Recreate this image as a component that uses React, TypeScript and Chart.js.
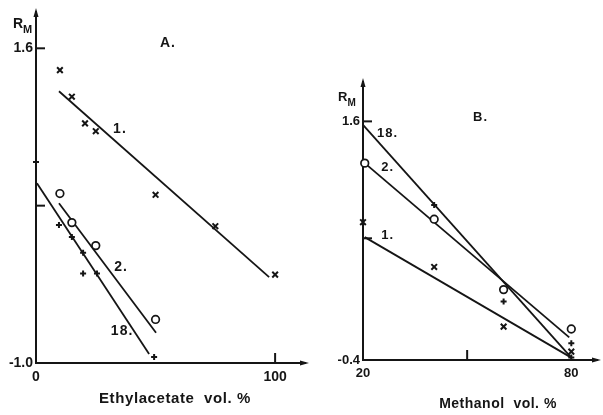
import React, { useEffect, useRef } from 'react';
import { Chart, registerables } from 'chart.js';

Chart.register(...registerables);

const INK = '#151515';
const FONT = '"Liberation Sans Narrow", "Arial Narrow", sans-serif';

// Panel A: R_M against ethyl acetate content (vol. %)
const aXTicks = [0, 100];
const aYTicks = [-1.0, 1.6];
const aXMarks = [100];
const aYMarks = [1.6, 0.3];
const aSolvent1 = [
  { x: 10, y: 1.42 }, { x: 15, y: 1.2 }, { x: 20.5, y: 0.98 }, { x: 25, y: 0.915 },
  { x: 50, y: 0.39 }, { x: 75, y: 0.13 }, { x: 100, y: -0.27 },
];
const aSolvent2 = [
  { x: 10, y: 0.4 }, { x: 15, y: 0.16 }, { x: 25, y: -0.03 }, { x: 50, y: -0.64 },
];
const aSolvent18 = [
  { x: 0, y: 0.66 }, { x: 9.6, y: 0.14 }, { x: 15, y: 0.04 }, { x: 19.7, y: -0.09 },
  { x: 19.7, y: -0.26 }, { x: 25.5, y: -0.26 }, { x: 49.4, y: -0.95 },
];
const aFit1 = [{ x: 9.6, y: 1.245 }, { x: 97.5, y: -0.29 }];
const aFit2 = [{ x: 9.6, y: 0.32 }, { x: 50.2, y: -0.75 }];
const aFit18 = [{ x: 0.4, y: 0.486 }, { x: 47.3, y: -0.925 }];
const aLineLabels = [
  { text: '1.', x: 35.1, y: 0.93 },
  { text: '2.', x: 35.6, y: -0.207 },
  { text: '18.', x: 36, y: -0.735 },
];

// Panel B: R_M against methanol content (vol. %)
const bXTicks = [20, 80];
const bYTicks = [-0.4, 1.6];
const bXMarks = [50];
const bYMarks = [1.6, 0.62];
const bSolvent1 = [
  { x: 20, y: 0.755 }, { x: 40.5, y: 0.38 }, { x: 60.5, y: -0.12 }, { x: 80, y: -0.33 },
];
const bSolvent2 = [
  { x: 20.5, y: 1.25 }, { x: 40.5, y: 0.78 }, { x: 60.5, y: 0.19 }, { x: 80, y: -0.14 },
];
const bSolvent18 = [
  { x: 40.5, y: 0.9 }, { x: 60.5, y: 0.09 }, { x: 80, y: -0.26 }, { x: 80, y: -0.38 },
];
const bFit1 = [{ x: 20.5, y: 0.63 }, { x: 80, y: -0.38 }];
const bFit2 = [{ x: 20.5, y: 1.25 }, { x: 79.4, y: -0.21 }];
const bFit18 = [{ x: 20, y: 1.57 }, { x: 80, y: -0.38 }];
const bLineLabels = [
  { text: '18.', x: 27.1, y: 1.5 },
  { text: '2.', x: 27.1, y: 1.215 },
  { text: '1.', x: 27.1, y: 0.64 },
];

type Pt = { x: number; y: number };

interface PanelSpec {
  xMin: number; xMax: number; yMin: number; yMax: number;
  padding: { left: number; top: number; right: number; bottom: number };
  yAxisWidth: number; xAxisHeight: number;
  xTicks: number[]; yTicks: number[]; xMarks: number[]; yMarks: number[];
  s1: Pt[]; s2: Pt[]; s18: Pt[]; f1: Pt[]; f2: Pt[]; f18: Pt[];
  lineLabels: { text: string; x: number; y: number }[];
  tickSize: number; titleSize: number; titleSpacing: number;
  title: string; titleX: number; titleY: number;
  letter: string; letterX: number; letterY: number;
  rmX: number; rmY: number; rmSize: number;
  yDecimals: number;
}

const decor = {
  id: 'decor',
  afterDraw(chart: any, _args: any, o: any) {
    const { ctx, chartArea: ca } = chart;
    const xs = chart.scales.x;
    const ys = chart.scales.y;
    ctx.save();
    ctx.strokeStyle = INK;
    ctx.fillStyle = INK;
    ctx.lineWidth = 2;
    ctx.lineCap = 'butt';
    // inward tick marks
    for (const v of o.yMarks) {
      const py = ys.getPixelForValue(v);
      ctx.beginPath(); ctx.moveTo(ca.left, py); ctx.lineTo(ca.left + 9, py); ctx.stroke();
    }
    for (const v of o.xMarks) {
      const px = xs.getPixelForValue(v);
      ctx.beginPath(); ctx.moveTo(px, ca.bottom); ctx.lineTo(px, ca.bottom - 10); ctx.stroke();
    }
    // arrow heads at the ends of both axes
    ctx.beginPath();
    ctx.moveTo(ca.left, ca.top - 4);
    ctx.lineTo(ca.left - 2.5, ca.top + 5);
    ctx.lineTo(ca.left + 2.5, ca.top + 5);
    ctx.closePath(); ctx.fill();
    ctx.beginPath();
    ctx.moveTo(ca.right + 4, ca.bottom);
    ctx.lineTo(ca.right - 5, ca.bottom - 2.5);
    ctx.lineTo(ca.right - 5, ca.bottom + 2.5);
    ctx.closePath(); ctx.fill();

    // series labels next to the fitted lines
    ctx.font = `bold ${o.tickSize}px ${FONT}`;
    ctx.textAlign = 'center';
    ctx.textBaseline = 'middle';
    ctx.letterSpacing = '1px';
    for (const l of o.lineLabels) {
      ctx.fillText(l.text, xs.getPixelForValue(l.x), ys.getPixelForValue(l.y));
    }
    // panel letter
    ctx.font = `bold ${o.tickSize}px ${FONT}`;
    ctx.textAlign = 'left';
    ctx.textBaseline = 'alphabetic';
    ctx.fillText(o.letter, o.letterX, o.letterY);
    // axis quantity R_M
    ctx.font = `bold ${o.rmSize}px ${FONT}`;
    ctx.letterSpacing = '0px';
    ctx.fillText('R', o.rmX, o.rmY);
    const rw = ctx.measureText('R').width;
    ctx.font = `bold ${Math.round(o.rmSize * 0.75)}px ${FONT}`;
    ctx.fillText('M', o.rmX + rw, o.rmY + 5);
    // x-axis title
    ctx.font = `bold ${o.titleSize}px ${FONT}`;
    ctx.letterSpacing = `${o.titleSpacing}px`;
    ctx.textAlign = 'center';
    ctx.fillText(o.title, o.titleX, o.titleY);
    ctx.restore();
  },
};

function buildConfig(p: PanelSpec): any {
  const pointBase = { showLine: false, borderColor: INK, clip: false as const, order: 0 };
  const lineBase = {
    type: 'line' as const, borderColor: INK, borderWidth: 1.8, pointRadius: 0,
    fill: false, tension: 0, clip: false as const, order: 1,
  };
  const tickFont = { family: FONT, size: p.tickSize, weight: 'bold' as const };
  return {
    type: 'scatter',
    data: {
      datasets: [
        { ...pointBase, data: p.s1, pointStyle: 'crossRot', pointRadius: 4, borderWidth: 2 },
        { ...pointBase, data: p.s2, pointStyle: 'circle', pointRadius: 3.8, borderWidth: 1.7, backgroundColor: '#ffffff' },
        { ...pointBase, data: p.s18, pointStyle: 'cross', pointRadius: 3, borderWidth: 2 },
        { ...lineBase, data: p.f1 },
        { ...lineBase, data: p.f2 },
        { ...lineBase, data: p.f18 },
      ],
    },
    options: {
      responsive: false,
      animation: false,
      devicePixelRatio: 1,
      layout: { padding: p.padding },
      events: [],
      plugins: {
        legend: { display: false },
        tooltip: { enabled: false },
        decor: {
          xMarks: p.xMarks, yMarks: p.yMarks, lineLabels: p.lineLabels,
          tickSize: p.tickSize, titleSize: p.titleSize, titleSpacing: p.titleSpacing,
          title: p.title, titleX: p.titleX, titleY: p.titleY,
          letter: p.letter, letterX: p.letterX, letterY: p.letterY,
          rmX: p.rmX, rmY: p.rmY, rmSize: p.rmSize,
        },
      },
      scales: {
        x: {
          type: 'linear', min: p.xMin, max: p.xMax,
          afterFit: (s: any) => { s.height = p.xAxisHeight; },
          afterBuildTicks: (s: any) => { s.ticks = p.xTicks.map((v) => ({ value: v })); },
          grid: { display: false, drawTicks: false },
          border: { display: true, color: INK, width: 2 },
          ticks: { color: INK, font: tickFont, padding: 6, maxRotation: 0, autoSkip: false, callback: (v: number) => String(v) },
        },
        y: {
          type: 'linear', min: p.yMin, max: p.yMax,
          afterFit: (s: any) => { s.width = p.yAxisWidth; },
          afterBuildTicks: (s: any) => { s.ticks = p.yTicks.map((v) => ({ value: v })); },
          grid: { display: false, drawTicks: false },
          border: { display: true, color: INK, width: 2 },
          ticks: { color: INK, font: tickFont, padding: 3, autoSkip: false, callback: (v: number) => v.toFixed(p.yDecimals) },
        },
      },
    },
    plugins: [decor],
  };
}

const panelA: PanelSpec = {
  xMin: 0, xMax: 112.5, yMin: -1.0, yMax: 1.9,
  padding: { left: 0, top: 12, right: 298, bottom: 22 },
  yAxisWidth: 36, xAxisHeight: 30,
  xTicks: aXTicks, yTicks: aYTicks, xMarks: aXMarks, yMarks: aYMarks,
  s1: aSolvent1, s2: aSolvent2, s18: aSolvent18, f1: aFit1, f2: aFit2, f18: aFit18,
  lineLabels: aLineLabels,
  tickSize: 14, titleSize: 15, titleSpacing: 0.6,
  title: 'Ethylacetate  vol. %', titleX: 175, titleY: 403,
  letter: 'A.', letterX: 160, letterY: 47,
  rmX: 13, rmY: 28, rmSize: 14,
  yDecimals: 1,
};

const panelB: PanelSpec = {
  xMin: 20, xMax: 87.4, yMin: -0.4, yMax: 1.93,
  padding: { left: 313, top: 82, right: 3, bottom: 25 },
  yAxisWidth: 50, xAxisHeight: 30,
  xTicks: bXTicks, yTicks: bYTicks, xMarks: bXMarks, yMarks: bYMarks,
  s1: bSolvent1, s2: bSolvent2, s18: bSolvent18, f1: bFit1, f2: bFit2, f18: bFit18,
  lineLabels: bLineLabels,
  tickSize: 13, titleSize: 14, titleSpacing: 0.5,
  title: 'Methanol  vol. %', titleX: 498, titleY: 408,
  letter: 'B.', letterX: 473, letterY: 121,
  rmX: 338, rmY: 101, rmSize: 13,
  yDecimals: 1,
};

function Panel({ spec }: { spec: PanelSpec }) {
  const ref = useRef<HTMLCanvasElement | null>(null);
  useEffect(() => {
    if (!ref.current) return;
    const chart = new Chart(ref.current, buildConfig(spec));
    return () => chart.destroy();
  }, [spec]);
  return (
    <canvas
      ref={ref}
      width={603}
      height={415}
      style={{ position: 'absolute', left: 0, top: 0, width: 603, height: 415 }}
    />
  );
}

export default function App() {
  return (
    <div style={{ position: 'fixed', left: 0, top: 0, width: 603, height: 415, background: '#ffffff', overflow: 'hidden' }}>
      <Panel spec={panelA} />
      <Panel spec={panelB} />
    </div>
  );
}
